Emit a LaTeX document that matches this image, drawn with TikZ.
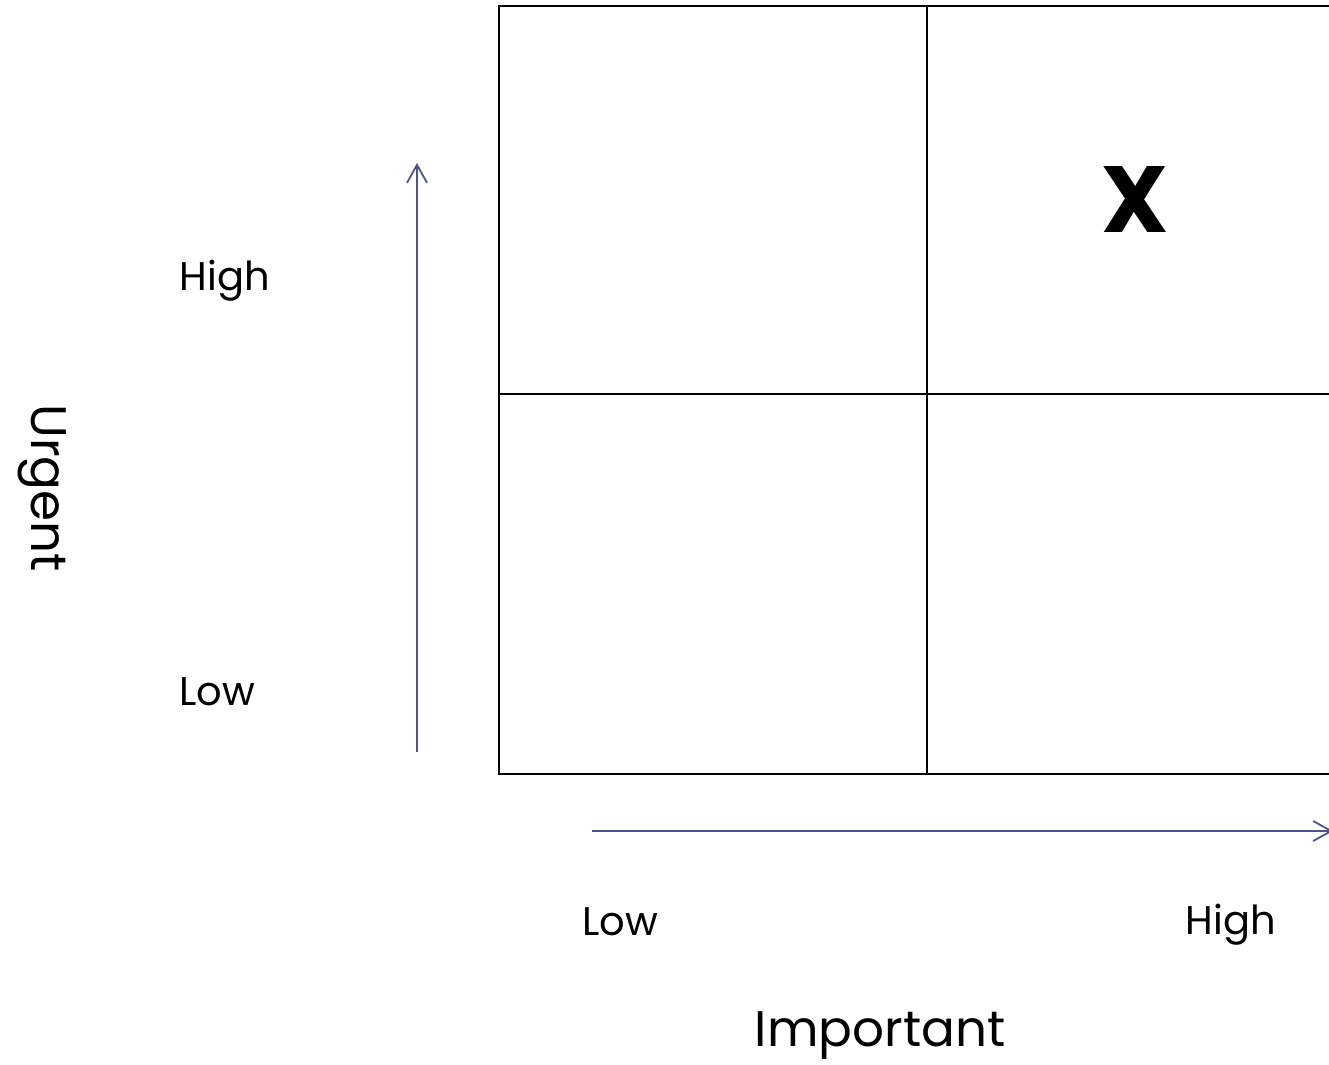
\documentclass[tikz,border=0pt]{standalone}
\usepackage{fontspec}
\setmainfont{Poppins}
\usetikzlibrary{arrows.meta}
\definecolor{axisblue}{RGB}{82,82,140}

\begin{document}
\begin{tikzpicture}[x=0.5pt, y=-0.5pt, >={Straight Barb[length=9pt, width=10pt]}]
  \useasboundingbox (0,0) rectangle (1329,1065);
  \clip (0,0) rectangle (1329,1065);

  % quadrant grid
  \draw[line width=1.4pt] (499,6) rectangle (1356,774);
  \draw[line width=1.4pt] (927,6) -- (927,774);
  \draw[line width=1.4pt] (499,394) -- (1356,394);

  % axes
  \coordinate (ybot) at (417,752);
  \coordinate (ytop) at (417,163);
  \coordinate (xleft) at (592,831);
  \coordinate (xright) at (1333,831);
  \draw[->, axisblue, line width=0.9pt] (ybot) -- (ytop);
  \draw[->, axisblue, line width=0.9pt] (xleft) -- (xright);

  \node (yhigh) at (225,281) {\fontsize{20}{24}\selectfont High};
  \node (ylow) at (217,692) {\fontsize{20}{24}\selectfont Low};
  \node (xlow) at (620,922) {\fontsize{20}{24}\selectfont Low};
  \node (xhigh) at (1231,925) {\fontsize{20}{24}\selectfont High};
  \node (ylabel) at (42,488) [rotate=-90] {\fontsize{25}{30}\selectfont Urgent};
  \node (xlabel) at (880,1036) {\fontsize{25}{30}\selectfont Important};

  \node (mark) at (1135,200) {\fontsize{47}{56}\selectfont\bfseries X};
\end{tikzpicture}
\end{document}
